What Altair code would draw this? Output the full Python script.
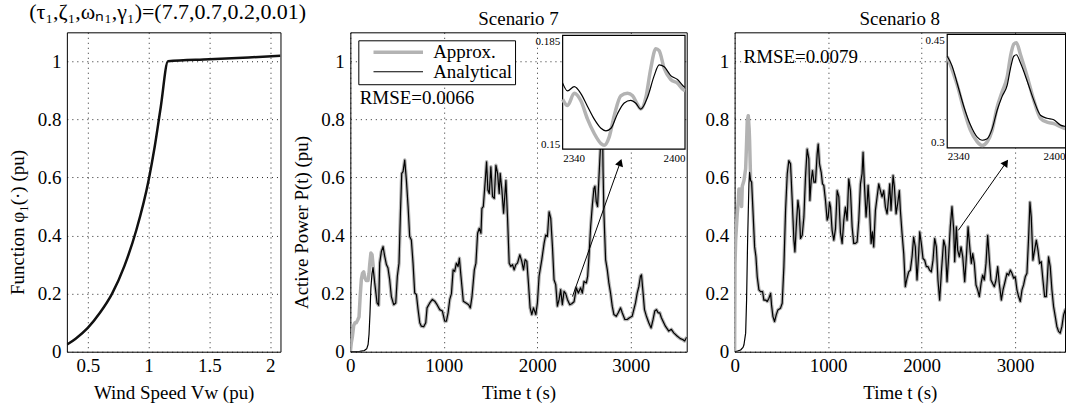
import math
import altair as alt
import pandas as pd

FONT = "Liberation Serif"
GREY = "#b3b3b3"
H = 320
SERIES = ["Approx.", "Analytical"]

# ---------------- left panel: static function ----------------
wind_speed = [0.33, 0.40, 0.50, 0.60, 0.70, 0.80, 0.90, 1.00, 1.05, 1.10, 1.16, 1.50, 2.085]
phi1 = [0.025, 0.045, 0.082, 0.134, 0.200, 0.294, 0.420, 0.590, 0.705, 0.842, 1.000, 1.007, 1.019]

# ---------------- Scenario 7 ----------------
s7_ap_t0 = [0, 10, 21, 36, 50, 64, 80, 93, 105, 118, 130, 143, 155, 170, 189, 200, 207, 220, 232, 243]
s7_ap_p0 = [0.0, 0.03, 0.05, 0.09, 0.10, 0.10, 0.11, 0.12, 0.19, 0.25, 0.27, 0.275, 0.255, 0.245, 0.245, 0.27, 0.30, 0.34, 0.335, 0.30]
s7_an_t0 = [0, 100, 150, 175, 190, 200, 210, 220, 232, 243]
s7_an_p0 = [0.0, 0.001, 0.004, 0.01, 0.025, 0.06, 0.13, 0.22, 0.27, 0.29]
s7_t = [261, 286, 303, 314, 332, 350, 368, 386, 403, 421, 439, 464, 486, 503, 521, 536, 550, 564, 582,
        600, 618, 635, 653, 671, 689, 707, 725, 743, 760, 785, 807, 821, 850, 878, 903, 928, 957, 985,
        1010, 1028, 1046, 1064, 1082, 1100, 1117, 1135, 1153, 1167, 1184, 1209, 1238, 1266, 1284, 1302,
        1327, 1344, 1362, 1380, 1398, 1408, 1423, 1444, 1458, 1472, 1487, 1504, 1522, 1540, 1558, 1576,
        1593, 1604, 1622, 1640, 1665, 1682, 1700, 1718, 1736, 1753, 1771, 1789, 1814, 1835, 1853, 1871,
        1889, 1906, 1924, 1942, 1960, 1985, 2002, 2020, 2049, 2074, 2091, 2109, 2127, 2145, 2163, 2180,
        2198, 2216, 2234, 2251, 2269, 2287, 2305, 2323, 2340, 2348, 2369, 2394, 2419, 2440, 2465, 2483,
        2501, 2526, 2540, 2554, 2572, 2590, 2607, 2618, 2632, 2646, 2661, 2675, 2689, 2697, 2705, 2714,
        2732, 2750, 2767, 2785, 2803, 2821, 2846, 2867, 2892, 2910, 2938, 2963, 2988, 3016, 3034, 3052,
        3070, 3088, 3105, 3116, 3130, 3148, 3169, 3194, 3219, 3240, 3258, 3276, 3294, 3312, 3329, 3354,
        3372, 3408, 3436, 3461, 3497, 3532, 3557, 3578, 3600]
s7_p = [0.237, 0.168, 0.16, 0.305, 0.345, 0.362, 0.328, 0.30, 0.288, 0.248, 0.19, 0.162, 0.168, 0.26, 0.305,
        0.477, 0.614, 0.62, 0.66, 0.59, 0.50, 0.397, 0.385, 0.305, 0.202, 0.197, 0.145, 0.10, 0.088, 0.086,
        0.10, 0.151, 0.168, 0.18, 0.174, 0.162, 0.145, 0.14, 0.105, 0.105, 0.134, 0.18, 0.20, 0.282, 0.277,
        0.305, 0.294, 0.322, 0.26, 0.174, 0.168, 0.162, 0.151, 0.19, 0.282, 0.305, 0.408, 0.425, 0.408,
        0.494, 0.50, 0.59, 0.654, 0.557, 0.545, 0.637, 0.534, 0.528, 0.642, 0.614, 0.545, 0.614, 0.557,
        0.477, 0.59, 0.465, 0.305, 0.294, 0.30, 0.282, 0.30, 0.305, 0.334, 0.311, 0.282, 0.317, 0.311,
        0.237, 0.151, 0.128, 0.151, 0.128, 0.168, 0.26, 0.317, 0.374, 0.402, 0.397, 0.482, 0.459, 0.362,
        0.248, 0.231, 0.157, 0.18, 0.214, 0.162, 0.208, 0.20, 0.18, 0.168, 0.162, 0.165, 0.172, 0.22,
        0.202, 0.22, 0.202, 0.242, 0.237, 0.26, 0.328, 0.431, 0.505, 0.562, 0.57, 0.517, 0.50, 0.602,
        0.694, 0.78, 0.82, 0.62, 0.477, 0.317, 0.282, 0.237, 0.202, 0.157, 0.128, 0.122, 0.134, 0.151,
        0.134, 0.111, 0.111, 0.117, 0.122, 0.145, 0.168, 0.202, 0.225, 0.26, 0.265, 0.214, 0.145, 0.122,
        0.10, 0.082, 0.111, 0.14, 0.145, 0.134, 0.134, 0.117, 0.10, 0.088, 0.071, 0.077, 0.065, 0.054,
        0.045, 0.042, 0.037, 0.05]
# inset 7 (2340-2400 s)
s7_in_ap_t = [2340, 2342.4, 2345.7, 2349.0, 2352.2, 2355.5, 2358.8, 2360.4, 2362.8, 2365.3, 2368.5, 2371.8,
              2374.3, 2376.7, 2378.3, 2380.8, 2383.2, 2385.7, 2387.3, 2389.8, 2393.0, 2396.3, 2399.5, 2400]
s7_in_ap_p = [0.1653, 0.1634, 0.1672, 0.1648, 0.1592, 0.1548, 0.1517, 0.1512, 0.1537, 0.1603, 0.1664, 0.1672,
              0.1664, 0.1637, 0.1623, 0.1659, 0.1748, 0.1809, 0.1803, 0.1748, 0.1714, 0.1703, 0.1681, 0.168]
s7_in_an_t = [2340, 2342.4, 2345.7, 2349.0, 2352.2, 2355.5, 2358.8, 2361.2, 2363.7, 2366.9, 2370.2, 2373.4,
              2375.9, 2378.3, 2381.6, 2384.9, 2387.3, 2389.8, 2393.0, 2396.3, 2399.5, 2400]
s7_in_an_p = [0.1703, 0.1679, 0.1692, 0.167, 0.1631, 0.1592, 0.1564, 0.1556, 0.1564, 0.1609, 0.1642, 0.165,
              0.1641, 0.1623, 0.1659, 0.1726, 0.1759, 0.1753, 0.1726, 0.1714, 0.1692, 0.169]

# ---------------- Scenario 8 ----------------
s8_ap_t0 = [0, 4, 11, 28, 40, 46, 55, 64, 75, 82, 100, 118, 128, 135, 146, 155, 160, 168]
s8_ap_p0 = [0.0, 0.30, 0.384, 0.475, 0.52, 0.56, 0.52, 0.56, 0.50, 0.57, 0.59, 0.63, 0.72, 0.795, 0.813, 0.77, 0.727, 0.63]
s8_an_t0 = [0, 30, 64, 90, 100, 118, 128, 139, 153, 160]
s8_an_p0 = [0.0, 0.002, 0.006, 0.015, 0.024, 0.064, 0.178, 0.384, 0.578, 0.618]
s8_t = [171, 182, 196, 214, 228, 242, 260, 278, 299, 313, 331, 349, 367, 385, 395, 410, 427, 445, 463, 491,
        509, 527, 545, 563, 580, 598, 616, 634, 645, 659, 677, 691, 705, 723, 741, 758, 776, 794, 805, 819,
        833, 848, 865, 883, 894, 908, 926, 940, 954, 972, 990, 1001, 1015, 1026, 1043, 1061, 1079, 1097,
        1115, 1132, 1150, 1168, 1185, 1203, 1221, 1239, 1257, 1274, 1292, 1310, 1328, 1346, 1363, 1374,
        1388, 1406, 1417, 1428, 1442, 1460, 1474, 1488, 1506, 1524, 1542, 1559, 1577, 1595, 1613, 1631,
        1648, 1659, 1673, 1695, 1709, 1727, 1744, 1762, 1773, 1791, 1809, 1826, 1844, 1862, 1880, 1898,
        1915, 1933, 1951, 1969, 1980, 1997, 2015, 2033, 2051, 2069, 2086, 2104, 2122, 2140, 2158, 2175,
        2193, 2211, 2236, 2254, 2272, 2289, 2307, 2325, 2344, 2354, 2372, 2386, 2404, 2422, 2440, 2461,
        2479, 2497, 2515, 2532, 2547, 2564, 2582, 2600, 2618, 2636, 2653, 2671, 2689, 2707, 2725, 2742,
        2760, 2778, 2796, 2814, 2831, 2853, 2871, 2888, 2913, 2931, 2949, 2967, 2985, 3002, 3020, 3038,
        3056, 3074, 3091, 3109, 3127, 3145, 3159, 3173, 3191, 3209, 3227, 3245, 3262, 3280, 3298, 3316,
        3334, 3358, 3376, 3394, 3412, 3430, 3447, 3465, 3483, 3501, 3519, 3536, 3547, 3600]
s8_p = [0.59, 0.584, 0.487, 0.361, 0.327, 0.258, 0.213, 0.207, 0.207, 0.178, 0.178, 0.173, 0.184, 0.201,
        0.161, 0.121, 0.104, 0.127, 0.144, 0.15, 0.167, 0.293, 0.487, 0.613, 0.658, 0.647, 0.521, 0.384,
        0.344, 0.43, 0.521, 0.487, 0.39, 0.401, 0.464, 0.601, 0.698, 0.664, 0.521, 0.59, 0.624, 0.584,
        0.584, 0.681, 0.715, 0.647, 0.618, 0.578, 0.573, 0.521, 0.453, 0.464, 0.515, 0.498, 0.418, 0.384,
        0.424, 0.555, 0.533, 0.41, 0.373, 0.453, 0.498, 0.453, 0.595, 0.555, 0.43, 0.373, 0.373, 0.378,
        0.453, 0.578, 0.613, 0.687, 0.578, 0.464, 0.51, 0.573, 0.498, 0.373, 0.413, 0.361, 0.487, 0.533,
        0.578, 0.555, 0.533, 0.555, 0.498, 0.475, 0.533, 0.578, 0.487, 0.607, 0.567, 0.475, 0.51, 0.555,
        0.487, 0.407, 0.338, 0.224, 0.253, 0.275, 0.281, 0.327, 0.395, 0.361, 0.247, 0.338, 0.413, 0.373,
        0.321, 0.315, 0.293, 0.293, 0.281, 0.275, 0.315, 0.39, 0.361, 0.247, 0.178, 0.27, 0.384, 0.361,
        0.241, 0.327, 0.43, 0.50, 0.418, 0.31, 0.43, 0.35, 0.327, 0.361, 0.327, 0.241, 0.327, 0.43, 0.361,
        0.304, 0.338, 0.304, 0.23, 0.213, 0.19, 0.235, 0.264, 0.247, 0.304, 0.401, 0.315, 0.247, 0.235,
        0.224, 0.247, 0.293, 0.235, 0.178, 0.213, 0.235, 0.27, 0.264, 0.281, 0.27, 0.253, 0.258, 0.213,
        0.19, 0.173, 0.213, 0.23, 0.258, 0.27, 0.395, 0.515, 0.464, 0.315, 0.35, 0.384, 0.35, 0.304, 0.31,
        0.247, 0.19, 0.19, 0.327, 0.293, 0.213, 0.155, 0.121, 0.087, 0.07, 0.064, 0.087, 0.127, 0.144,
        0.133, 0.13]
# inset 8 (2340-2400 s)
s8_in_ap_t = [2340, 2344.9, 2348.2, 2351.4, 2354.7, 2357.1, 2359.6, 2362, 2364.5, 2366.9, 2369.4, 2371,
              2372.6, 2373.9, 2375.9, 2379.2, 2382.4, 2385.7, 2388.9, 2392.2, 2395.5, 2398.4, 2400]
s8_in_ap_p = [0.421, 0.383, 0.35, 0.323, 0.308, 0.303, 0.308, 0.323, 0.354, 0.374, 0.394, 0.421, 0.437,
              0.439, 0.423, 0.394, 0.363, 0.339, 0.334, 0.332, 0.328, 0.325, 0.324]
s8_in_an_t = [2340, 2342.4, 2344.9, 2348.2, 2351.4, 2354.7, 2357.1, 2359.6, 2362, 2364.5, 2366.9, 2369.4,
              2371, 2372.6, 2373.9, 2375.9, 2379.2, 2382.4, 2385.7, 2388.9, 2392.2, 2395.5, 2398.4, 2400]
s8_in_an_p = [0.421, 0.408, 0.385, 0.354, 0.33, 0.314, 0.31, 0.312, 0.325, 0.35, 0.368, 0.383, 0.405, 0.421,
              0.423, 0.412, 0.388, 0.363, 0.343, 0.339, 0.337, 0.33, 0.328, 0.327]

YS = alt.Scale(domain=[0, 1.1], nice=False, zero=False)
Y_VALUES = [0, 0.2, 0.4, 0.6, 0.8, 1]


def y_axis(title=None, title_x=None):
    kw = dict(values=Y_VALUES, format="~g", grid=True, domain=False, ticks=False, labelPadding=6,
              labelFlush=False)
    if title:
        kw.update(title=title, titleX=title_x, titleY=190, titleBaseline="alphabetic", titleAngle=270)
    else:
        kw.update(title=None)
    return alt.Axis(**kw)


def title_params(text, offset, dx=0, size=19):
    return alt.TitleParams(text=text, font=FONT, fontSize=size, fontWeight="normal", color="black",
                           offset=offset, anchor="middle", dx=dx)


ONE = pd.DataFrame({"k": [0]})


def scenario(title, t_c, p_c, t_ap, p_ap, t_an, p_an, in_ap, in_an, width, x_max,
             ix_dom, ix_rng, iy_dom, iy_rng, ix_vals, ix_expr, iy_vals,
             rmse, rmse_xy, arrow, legend, ytitle=None, ytitle_x=None):
    xs = alt.Scale(domain=[0, x_max], nice=False, zero=False)
    xa = alt.Axis(values=[0, 1000, 2000, 3000], format="d", title="Time t (s)", titleY=47,
                  titleBaseline="alphabetic", labelPadding=5, grid=True, ticks=False, domain=False,
                  labelFlush=False)
    ya = y_axis(ytitle, ytitle_x)
    approx = pd.DataFrame({"t": t_ap + t_c, "P": p_ap + p_c, "series": SERIES[0]})
    analytic = pd.DataFrame({"t": t_an + t_c, "P": p_an + p_c, "series": SERIES[1]})
    cs = alt.Scale(domain=SERIES, range=[GREY, "black"])
    ws = alt.Scale(domain=SERIES, range=[3.5, 1.2])

    def line(df):
        return alt.Chart(df).mark_line(clip=True, strokeJoin="round").encode(
            x=alt.X("t:Q", scale=xs, axis=xa),
            y=alt.Y("P:Q", scale=YS, axis=ya),
            color=alt.Color("series:N", scale=cs, legend=legend),
            strokeWidth=alt.StrokeWidth("series:N", scale=ws, legend=legend),
        )

    txt = alt.Chart(ONE).mark_text(align="left", baseline="alphabetic", font=FONT, fontSize=19,
                                   color="black", text=rmse).encode(
        x=alt.X(datum=rmse_xy[0], scale=xs, axis=xa),
        y=alt.Y(datum=rmse_xy[1], scale=YS, axis=ya))

    (x0, y0), (x1, y1) = arrow
    pxs = width / x_max
    pyu = H / 1.1
    dx = (x1 - x0) * pxs
    dy = (y1 - y0) * pyu
    L = math.hypot(dx, dy)
    ang = math.degrees(math.atan2(dx, dy))
    back = 4.0
    hx = x1 - dx / L * back / pxs
    hy = y1 - dy / L * back / pyu
    rule = alt.Chart(ONE).mark_rule(color="black", strokeWidth=1).encode(
        x=alt.X(datum=x0, scale=xs, axis=xa), y=alt.Y(datum=y0, scale=YS, axis=ya),
        x2=alt.X2(datum=hx), y2=alt.Y2(datum=hy))
    head = alt.Chart(ONE).mark_point(shape="triangle-up", filled=True, size=70, angle=ang,
                                     color="black", opacity=1).encode(
        x=alt.X(datum=hx, scale=xs, axis=xa), y=alt.Y(datum=hy, scale=YS, axis=ya))

    main = alt.layer(line(approx), line(analytic), txt, rule, head)

    ixs = alt.Scale(domain=ix_dom, range=ix_rng, nice=False, zero=False)
    iys = alt.Scale(domain=iy_dom, range=iy_rng, nice=False, zero=False)
    ixa = alt.Axis(orient="bottom", offset=iy_rng[0] - H, values=ix_vals, labelExpr=ix_expr,
                   labelFlush=True, labelFontSize=11, labelPadding=3, grid=False, ticks=False,
                   domain=False, title=None)
    iya = alt.Axis(orient="left", offset=-ix_rng[0], values=iy_vals, format=".3~f", labelFlush=True,
                   labelFontSize=11, labelPadding=3, grid=False, ticks=False, domain=False, title=None)
    box = alt.Chart(ONE).mark_rect(fill="white", stroke="black", strokeWidth=1.2, clip=True).encode(
        x=alt.X(datum=ix_dom[0], scale=ixs, axis=ixa), x2=alt.X2(datum=2400),
        y=alt.Y(datum=iy_dom[0], scale=iys, axis=iya), y2=alt.Y2(datum=iy_dom[1]))

    def iline(tp, color, w):
        return alt.Chart(pd.DataFrame({"t": tp[0], "P": tp[1]})).mark_line(
            color=color, strokeWidth=w, interpolate="monotone", clip=True).encode(
            x=alt.X("t:Q", scale=ixs, axis=ixa), y=alt.Y("P:Q", scale=iys, axis=iya))

    inset = alt.layer(box, iline(in_ap, GREY, 3.5), iline(in_an, "black", 1.2))
    return alt.layer(main, inset).resolve_scale(x="independent", y="independent").properties(
        width=width, height=H, title=title_params(title, 3))


legend7 = alt.Legend(title=None, orient="top-left", offset=8, symbolType="M0.4,0H6.6", symbolSize=256,
                     labelFont=FONT, labelFontSize=19, labelColor="black", labelOffset=53,
                     strokeColor="black", fillColor="white", padding=2, rowPadding=0)

mid = scenario("Scenario 7", s7_t, s7_p, s7_ap_t0, s7_ap_p0, s7_an_t0, s7_an_p0,
               (s7_in_ap_t, s7_in_ap_p), (s7_in_an_t, s7_in_an_p), 337, 3600,
               [2340, 2400], [212.7, 335.3], [0.15, 0.185], [117, 3], [2340, 2400],
               "format(datum.value, 'd')", [0.15, 0.185],
               "RMSE=0.0066", (100, 0.853), ((2377, 0.19), (2903, 0.665)), legend7,
               "Active Power P(t) (pu)", -43)

right = scenario("Scenario 8", s8_t, s8_p, s8_ap_t0, s8_ap_p0, s8_an_t0, s8_an_p0,
                 (s8_in_ap_t, s8_in_ap_p), (s8_in_an_t, s8_in_an_p), 331, 3534,
                 [2340, 2397.7], [213, 331], [0.3, 0.45], [115.7, 2], [2340, 2397.7],
                 "datum.value < 2370 ? '2340' : '2400'", [0.3, 0.45],
                 "RMSE=0.0079", (95, 0.995), ((2393, 0.418), (2927, 0.662)), None)

left = alt.Chart(pd.DataFrame({"v": wind_speed, "phi": phi1})).mark_line(
    color="#111111", strokeWidth=2.5, clip=True, interpolate="monotone").encode(
    x=alt.X("v:Q", scale=alt.Scale(domain=[0.328, 2.085], nice=False, zero=False),
            axis=alt.Axis(values=[0.5, 1, 1.5, 2], format="~g", title="Wind Speed Vw (pu)", titleY=47,
                          titleBaseline="alphabetic", labelPadding=5, grid=True, ticks=False, domain=False,
                          labelFlush=False)),
    y=alt.Y("phi:Q", scale=YS, axis=y_axis("Function φ₁(·) (pu)", -43)),
).properties(width=214, height=H,
             title=title_params("(τ₁,ζ₁,ωₙ₁,γ₁)=(7.7,0.7,0.2,0.01)", 8, -6, 22))

inner = alt.hconcat(mid, right, spacing=48, bounds="flush").resolve_scale(
    color="independent", strokeWidth="independent").resolve_legend(
    color="independent", strokeWidth="independent")

chart = alt.hconcat(left, inner, spacing=70, bounds="flush").resolve_scale(
    color="independent", strokeWidth="independent").resolve_legend(
    color="independent", strokeWidth="independent").properties(
    padding={"left": 8, "top": 0, "right": 0, "bottom": 0}, background="white"
).configure_view(stroke="black", strokeWidth=1).configure_axis(
    labelFont=FONT, labelFontSize=19, labelColor="black", titleFont=FONT, titleFontSize=19,
    titleFontWeight="normal", titleColor="black", gridColor="black", gridDash=[1, 4],
    gridOpacity=0.85, gridWidth=1
)

chart.save("out.html", embed_options={"renderer": "svg", "actions": False})
